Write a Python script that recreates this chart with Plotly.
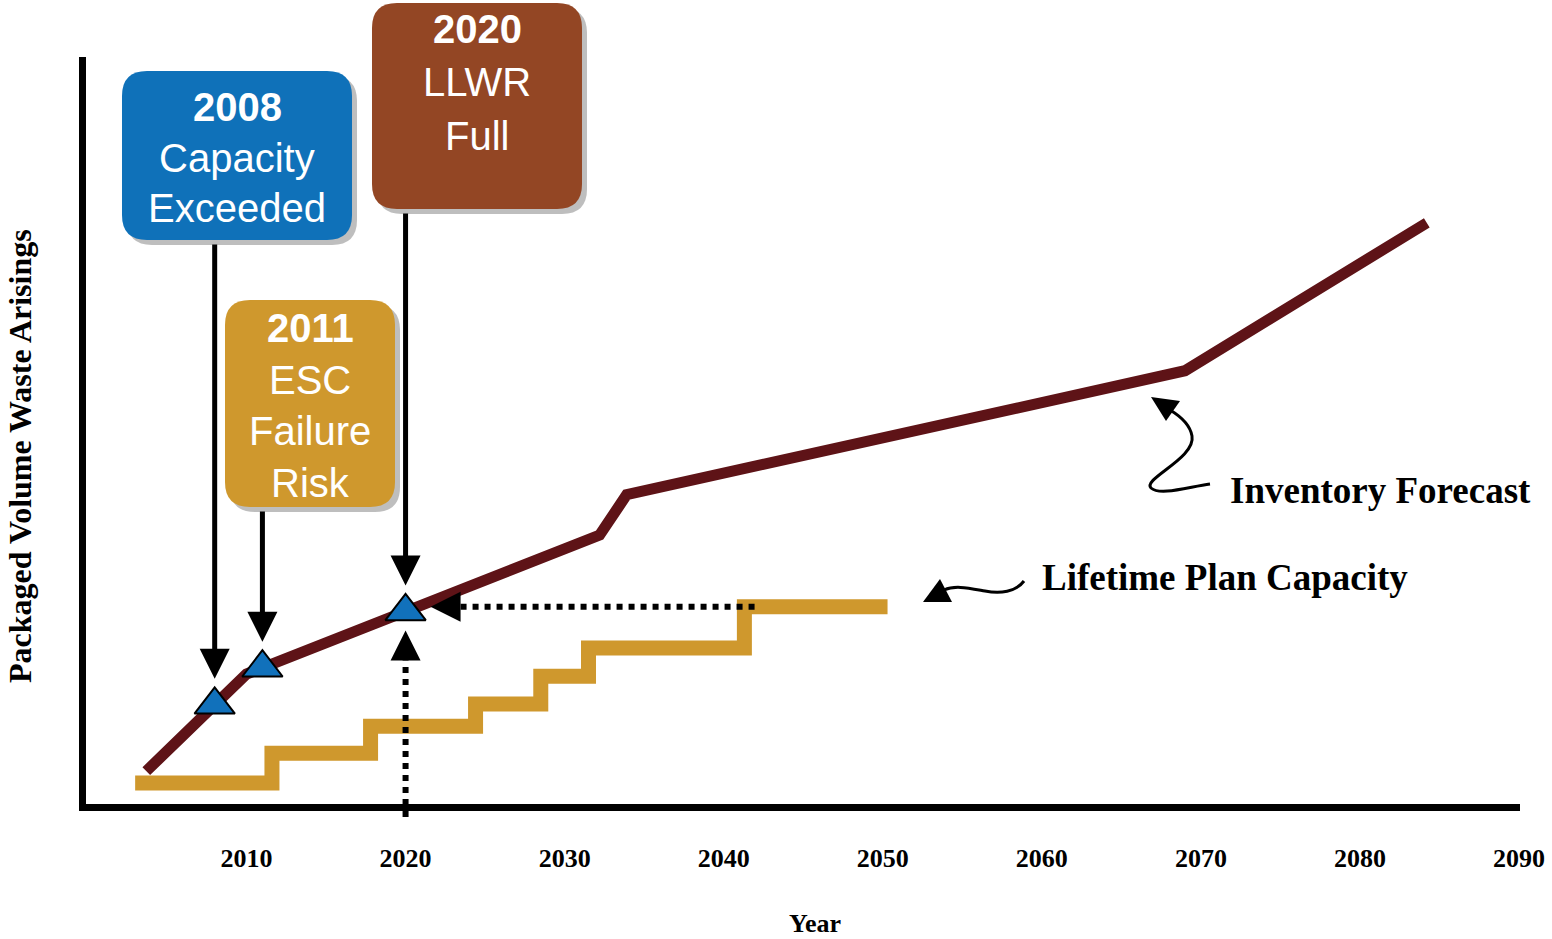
import numpy as np
import plotly.graph_objects as go

# Inventory forecast of packaged waste volume (relative units) by year
forecast_years = [2003.7, 2010.0, 2032.2, 2033.9, 2069.0, 2084.2]
forecast_volume = [4.4, 17.4, 36.0, 41.4, 58.0, 77.8]

# Lifetime plan capacity: each level applies from the listed year onward
capacity_years = [2003.0, 2011.6, 2017.8, 2024.4, 2028.5, 2031.5, 2041.3, 2050.3]
capacity_volume = [2.8, 6.8, 10.4, 13.4, 17.1, 20.9, 26.4, 26.4]

# Milestones marked on the forecast
event_years = [2008, 2011, 2020]
event_captions = [["Capacity", "Exceeded"], ["ESC", "Failure", "Risk"], ["LLWR", "Full"]]

tick_years = [2010, 2020, 2030, 2040, 2050, 2060, 2070, 2080, 2090]
tick_labels = [str(y) for y in tick_years]

# Colours
MAROON = "#5E1317"
GOLD = "#CF982D"
BLUE = "#0F71B9"
BROWN = "#934624"
SHADOW = "#BEBEBE"
MARKER_BLUE = "#1171BB"

SERIF = "Liberation Serif, Times New Roman, serif"
SANS = "Liberation Sans, Arial, sans-serif"

# Page / plot geometry (pixels)
W, H = 1552, 939
ML, MR, MT, MB = 86, 32, 57, 135
PW, PH = W - ML - MR, H - MT - MB
X_RANGE = [1999.91, 2090.06]
Y_RANGE = [0, 100]


def x_px(year):
    return ML + (year - X_RANGE[0]) / (X_RANGE[1] - X_RANGE[0]) * PW


def y_px(v):
    return MT + PH - (v - Y_RANGE[0]) / (Y_RANGE[1] - Y_RANGE[0]) * PH


def year_at(p):
    return X_RANGE[0] + (p - ML) / PW * (X_RANGE[1] - X_RANGE[0])


def paper_x(p):
    return (p - ML) / PW


def paper_y(p):
    return (MT + PH - p) / PH


def path_from(cmds):
    """Build an SVG path in paper units from commands given in pixel points."""
    parts = []
    for cmd, pts in cmds:
        coords = " ".join(f"{paper_x(x):.5f},{paper_y(y):.5f}" for x, y in pts)
        parts.append(f"{cmd}{coords}")
    return " ".join(parts)


def rounded_rect(x0, y0, x1, y1, r):
    return path_from([
        ("M", [(x0 + r, y0)]),
        ("L", [(x1 - r, y0)]),
        ("Q", [(x1, y0), (x1, y0 + r)]),
        ("L", [(x1, y1 - r)]),
        ("Q", [(x1, y1), (x1 - r, y1)]),
        ("L", [(x0 + r, y1)]),
        ("Q", [(x0, y1), (x0, y1 - r)]),
        ("L", [(x0, y0 + r)]),
        ("Q", [(x0, y0), (x0 + r, y0)]),
    ]) + " Z"


event_volume = np.interp(event_years, forecast_years, forecast_volume)

fig = go.Figure()

fig.add_trace(go.Scatter(
    x=capacity_years, y=capacity_volume, mode="lines",
    line=dict(color=GOLD, width=15, shape="hv"),
    name="Lifetime Plan Capacity", hoverinfo="skip",
))
fig.add_trace(go.Scatter(
    x=forecast_years, y=forecast_volume, mode="lines",
    line=dict(color=MAROON, width=11),
    name="Inventory Forecast", hoverinfo="skip",
))
fig.add_trace(go.Scatter(
    x=event_years, y=event_volume, mode="markers",
    marker=dict(symbol="triangle-up", size=35, color=MARKER_BLUE,
                line=dict(color="black", width=2)),
    name="Milestones", hoverinfo="skip",
))

shapes = []
annotations = []

# Callout boxes for each milestone (pixel layout)
boxes = [
    dict(x0=122, x1=352, y0=71, y1=240, fill=BLUE, first=107, step=50.5),
    dict(x0=225, x1=395, y0=300, y1=507, fill=GOLD, first=328, step=51.7),
    dict(x0=372, x1=582, y0=3, y1=209, fill=BROWN, first=29, step=53.5),
]
for b in boxes:
    shapes.append(dict(type="path", xref="paper", yref="paper", layer="above",
                       path=rounded_rect(b["x0"] + 5, b["y0"] + 5, b["x1"] + 5, b["y1"] + 5, 25),
                       fillcolor=SHADOW, line=dict(width=0)))
    shapes.append(dict(type="path", xref="paper", yref="paper", layer="above",
                       path=rounded_rect(b["x0"], b["y0"], b["x1"], b["y1"], 25),
                       fillcolor=b["fill"], line=dict(width=0)))

for i, (year, caption, b) in enumerate(zip(event_years, event_captions, boxes)):
    lines = [f"<b>{year}</b>"] + caption
    cx = (b["x0"] + b["x1"]) / 2
    for k, txt in enumerate(lines):
        annotations.append(dict(
            xref="paper", yref="paper", x=paper_x(cx), y=paper_y(b["first"] + k * b["step"]),
            text=txt, showarrow=False, xanchor="center", yanchor="middle",
            font=dict(family=SANS, size=40, color="white"),
        ))
    # arrow from the box down to the milestone marker
    annotations.append(dict(
        xref="x", yref="y", x=year, y=event_volume[i], text="",
        showarrow=True, ax=0, ay=(b["y1"] + 3) - y_px(event_volume[i]),
        arrowhead=2, arrowsize=1.2, arrowwidth=5, arrowcolor="black", standoff=26,
    ))

# Dotted arrow from the final capacity level back to the 2020 milestone
full_year = event_years[-1]
full_level = capacity_volume[-1]
shapes.append(dict(type="line", xref="x", yref="y", layer="above",
                   x0=year_at(x_px(full_year) + 55), x1=year_at(x_px(capacity_years[-2]) + 12),
                   y0=full_level, y1=full_level,
                   line=dict(color="black", width=6, dash="dot")))
annotations.append(dict(
    xref="x", yref="y", x=full_year, y=full_level, text="",
    showarrow=True, ax=55, ay=0, arrowhead=2, arrowsize=3, arrowwidth=2,
    arrowcolor="black", standoff=25,
))

# Dotted arrow up from the year axis to the 2020 milestone
head_base = y_px(event_volume[-1]) + 19 + 30
shapes.append(dict(type="line", xref="x", yref="paper", layer="above",
                   x0=full_year, x1=full_year, y0=paper_y(817), y1=paper_y(head_base),
                   line=dict(color="black", width=6, dash="dot")))
annotations.append(dict(
    xref="x", yref="y", x=full_year, y=event_volume[-1], text="",
    showarrow=True, ax=0, ay=50, arrowhead=2, arrowsize=3, arrowwidth=2,
    arrowcolor="black", standoff=19,
))

# Curved pointers to the series labels
shapes.append(dict(type="path", xref="paper", yref="paper", layer="above",
                   path=path_from([
                       ("M", [(1210, 484)]),
                       ("C", [(1188, 487), (1160, 496), (1151, 488)]),
                       ("C", [(1142, 479), (1196, 458), (1192, 436)]),
                       ("C", [(1190, 424), (1180, 416), (1170, 410)]),
                   ]),
                   line=dict(color="black", width=3)))
shapes.append(dict(type="path", xref="paper", yref="paper", layer="above",
                   path=path_from([("M", [(1151, 397)]), ("L", [(1166, 421)]), ("L", [(1180, 401)])]) + " Z",
                   fillcolor="black", line=dict(width=0)))
shapes.append(dict(type="path", xref="paper", yref="paper", layer="above",
                   path=path_from([
                       ("M", [(1024, 581)]),
                       ("C", [(1016, 592), (1000, 594), (985, 591)]),
                       ("C", [(968, 588), (955, 585), (944, 590)]),
                   ]),
                   line=dict(color="black", width=3)))
shapes.append(dict(type="path", xref="paper", yref="paper", layer="above",
                   path=path_from([("M", [(923, 602)]), ("L", [(940, 579)]), ("L", [(952, 602)])]) + " Z",
                   fillcolor="black", line=dict(width=0)))

annotations.append(dict(
    xref="paper", yref="paper", x=paper_x(1228), y=paper_y(490),
    text="Inventory Forecast", showarrow=False, xanchor="left", yanchor="middle",
    font=dict(family=SERIF, size=37, color="black", weight="bold"),
))
annotations.append(dict(
    xref="paper", yref="paper", x=paper_x(1040), y=paper_y(577),
    text="Lifetime Plan Capacity", showarrow=False, xanchor="left", yanchor="middle",
    font=dict(family=SERIF, size=37, color="black", weight="bold"),
))

# Axis titles
annotations.append(dict(
    xref="paper", yref="paper", x=paper_x(20), y=paper_y(456),
    text="Packaged Volume Waste Arisings", showarrow=False, textangle=-90,
    xanchor="center", yanchor="middle",
    font=dict(family=SERIF, size=32, color="black", weight="bold"),
))
annotations.append(dict(
    xref="paper", yref="paper", x=paper_x(815), y=paper_y(923),
    text="Year", showarrow=False, xanchor="center", yanchor="middle",
    font=dict(family=SERIF, size=26, color="black", weight="bold"),
))

fig.update_layout(
    width=W, height=H,
    margin=dict(l=ML, r=MR, t=MT, b=MB, pad=0),
    paper_bgcolor="white", plot_bgcolor="white",
    showlegend=False, hovermode=False,
    shapes=shapes, annotations=annotations,
    xaxis=dict(
        range=X_RANGE, showgrid=False, zeroline=False, automargin=False,
        showline=True, linecolor="black", linewidth=7,
        tickmode="array", tickvals=tick_years, ticktext=tick_labels,
        ticks="outside", ticklen=25, tickcolor="rgba(0,0,0,0)",
        tickfont=dict(family=SERIF, size=26, color="black", weight="bold"),
    ),
    yaxis=dict(
        range=Y_RANGE, showgrid=False, zeroline=False, automargin=False,
        showline=True, linecolor="black", linewidth=7,
        showticklabels=False, ticks="",
    ),
)

fig.write_html("out.html", config={"displayModeBar": False})
